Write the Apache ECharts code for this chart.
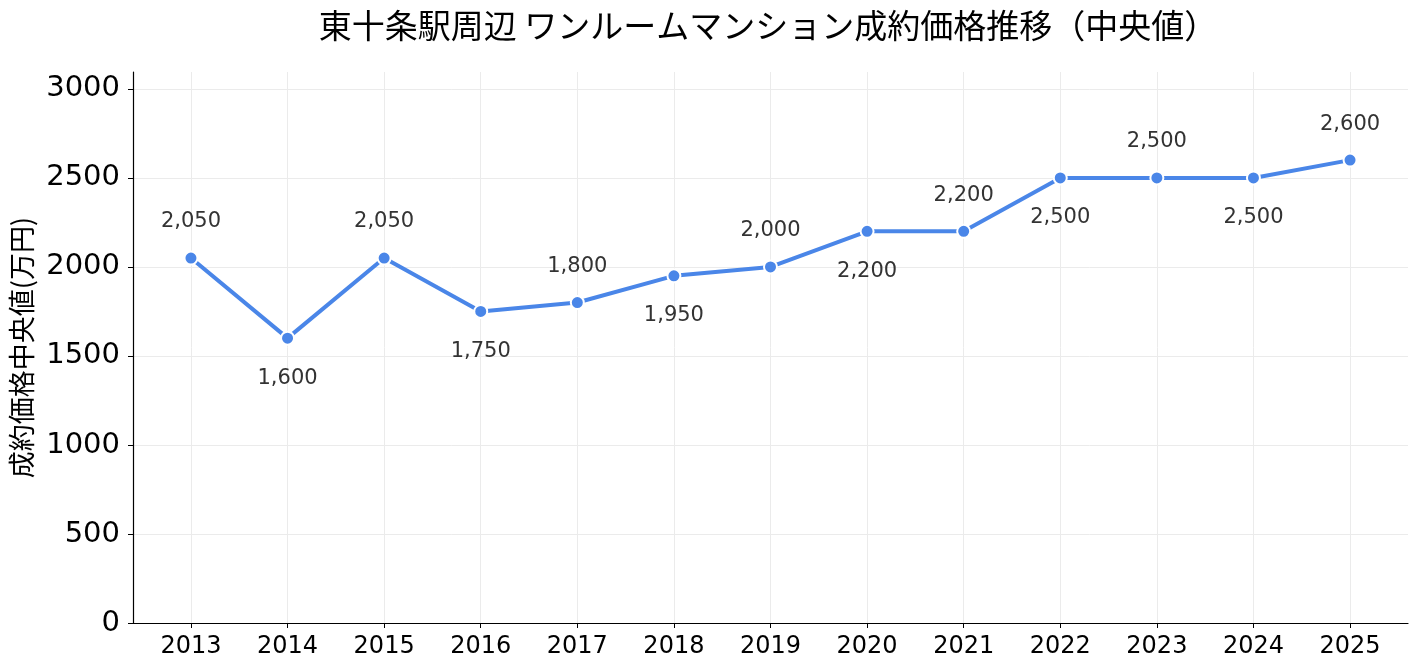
<!DOCTYPE html>
<html>
<head>
<meta charset="utf-8">
<script src="https://cdn.jsdelivr.net/npm/echarts@6/dist/echarts.min.js"></script>
<style>
html, body { margin: 0; padding: 0; background: #fff; }
#main { width: 1418px; height: 671px; }
</style>
</head>
<body>
<div id="main"></div>
<script>
// 東十条駅周辺 ワンルーム成約価格（中央値）
var years = [2013, 2014, 2015, 2016, 2017, 2018, 2019, 2020, 2021, 2022, 2023, 2024, 2025];
var prices = [2050, 1600, 2050, 1750, 1800, 1950, 2000, 2200, 2200, 2500, 2500, 2500, 2600];
var yTicks = [0, 500, 1000, 1500, 2000, 2500, 3000];

var jpFont = '"Noto Sans CJK JP", sans-serif';
var numFont = '"DejaVu Sans", sans-serif';
var myChart = echarts.init(document.getElementById('main'));

// ラベルは上下交互
var points = years.map(function (y, i) {
	var up = i % 2 === 0;
	return {
		value: [y, prices[i]],
		label: { position: up ? 'top' : 'bottom', distance: up ? 18 : 22 }
	};
});

var option = {
	backgroundColor: '#fff',
	title: {
		text: '東十条駅周辺 ワンルームマンション成約価格推移（中央値）',
		left: 763,
		textAlign: 'center',
		top: 4,
		textStyle: { fontFamily: jpFont, fontSize: 33, fontWeight: 'normal', color: '#000' }
	},
	grid: { left: 133, right: 10, top: 72, bottom: 48 },
	xAxis: {
		type: 'value',
		min: 2012.4,
		max: 2025.6,
		axisLine: { lineStyle: { color: '#000', width: 1.2 } },
		axisTick: { show: true, length: 5, customValues: years, lineStyle: { color: '#000' } },
		axisLabel: { customValues: years, fontFamily: numFont, fontSize: 24, color: '#000', margin: 12,
			formatter: function (v) { return String(v); } },
		splitLine: { show: true, lineStyle: { color: '#ebebeb', width: 1 } }
	},
	yAxis: {
		type: 'value',
		min: 0,
		max: 3095,
		name: '成約価格中央値(万円)',
		nameLocation: 'middle',
		nameGap: 94,
		nameRotate: 90,
		nameTextStyle: { fontFamily: jpFont, fontSize: 27, color: '#000' },
		axisLine: { show: true, lineStyle: { color: '#000', width: 1.2 } },
		axisTick: { show: true, length: 5, customValues: yTicks, lineStyle: { color: '#000' } },
		axisLabel: { customValues: yTicks, fontFamily: numFont, fontSize: 29, color: '#000', margin: 13,
			formatter: function (v) { return String(v); } },
		splitLine: { show: true, lineStyle: { color: '#ebebeb', width: 1 } }
	},
	series: [{
		type: 'line',
		data: points,
		symbol: 'circle',
		symbolSize: 13,
		lineStyle: { color: '#4a86e8', width: 4 },
		itemStyle: { color: '#4a86e8', borderColor: '#fff', borderWidth: 2 },
		label: {
			show: true,
			fontFamily: numFont,
			fontSize: 21,
			color: '#333',
			formatter: function (p) { return p.value[1].toLocaleString('en-US'); }
		},
		z: 3
	}]
};
myChart.setOption(option);
</script>
</body>
</html>
